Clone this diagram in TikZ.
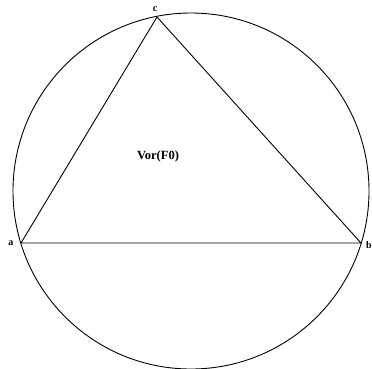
\documentclass[tikz,border=0pt]{standalone}
\usepackage{fontspec}
\setmainfont{Liberation Serif}
\begin{document}
\begin{tikzpicture}[x=1pt,y=-1pt,
  edge/.style={draw=black,line width=0.9pt},
  lbl/.style={font=\bfseries\fontsize{10}{12}\selectfont,inner sep=0pt}]
\useasboundingbox (0,0) rectangle (372,368);
\coordinate (a) at (21,243);
\coordinate (b) at (361,243);
\coordinate (c) at (157,17);
\coordinate (o) at (191,191);
\draw[edge] (o) circle (178);
\draw[edge] (a) -- (b) -- (c) -- cycle;
\node[lbl] (la) at (11,243) {a};
\node[lbl] (lb) at (369,245) {b};
\node[lbl] (lc) at (155,9) {c};
\node[lbl,font=\bfseries\fontsize{12.5}{14}\selectfont] (v) at (158,156) {Vor(F0)};
\end{tikzpicture}
\end{document}
